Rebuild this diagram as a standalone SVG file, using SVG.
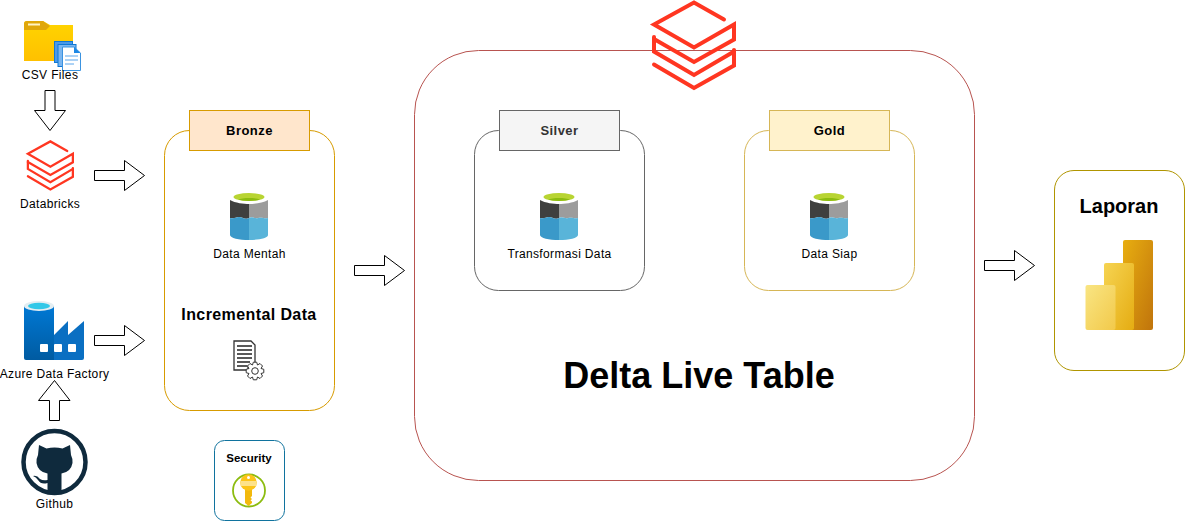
<svg xmlns="http://www.w3.org/2000/svg" width="1185" height="521" viewBox="0 0 1185 521">
<style>
text{font-family:"Liberation Sans",Arial,sans-serif;text-anchor:middle;fill:#000}
.l{font-size:12px;letter-spacing:.35px}
.h{font-size:13px;font-weight:bold;letter-spacing:.45px}
.box{fill:#fff}
.arrow{fill:#fff;stroke:#000;stroke-width:1}
</style>
<defs>
<linearGradient id="folderG" x1="0" y1="0" x2="0" y2="1"><stop offset="0" stop-color="#ffd400"/><stop offset="1" stop-color="#ffc000"/></linearGradient>
<linearGradient id="adfG" x1="0" y1="0" x2="0" y2="1"><stop offset="0" stop-color="#0078d4"/><stop offset="1" stop-color="#005ba1"/></linearGradient>
<linearGradient id="pb1" x1="0" y1="0" x2="1" y2="1"><stop offset="0" stop-color="#f9e583"/><stop offset="1" stop-color="#f2c94a"/></linearGradient>
<linearGradient id="pb2" x1="0" y1="0" x2="1" y2="1"><stop offset="0" stop-color="#f6d452"/><stop offset="1" stop-color="#e5ac12"/></linearGradient>
<linearGradient id="pb3" x1="0" y1="0" x2="1" y2="1"><stop offset="0" stop-color="#e8ae10"/><stop offset="1" stop-color="#c0740c"/></linearGradient>
<g id="stack" fill="none" stroke="#ff3621" stroke-width="4" stroke-linecap="round" stroke-linejoin="miter">
<path d="M724 19.500 694 2.500 654 24.500 694 47.500 734 24.500V39.500L694 62 654 39"/>
<path d="M654 37V51.500L694 75 734 51.500V50"/>
<path d="M734 51V65.500L694 88 654 64.500"/>
</g>
<g id="cyl">
<path d="M0 5C0-1.500 38-1.500 38 5V43C38 49.600 0 49.600 0 43Z" fill="#fff"/>
<path d="M0 8C5 11 14 12 19 12V26C15 28 12 25 9 25 6 25 4 27 0 26Z" fill="#3f3f3f"/>
<path d="M38 8C33 11 24 12 19 12V26C22 24 25 27 28 26 32 25 35 27 38 26Z" fill="#9c9c9c"/>
<path d="M0 26C4 27 6 25 9 25 12 25 15 28 19 26V48C9 48 0 46 0 43Z" fill="#3a99c9"/>
<path d="M38 26C35 27 32 25 28 26 25 27 22 24 19 26V48C29 48 38 46 38 43Z" fill="#59b4d9"/>
<ellipse cx="19" cy="5" rx="15.500" ry="4" fill="#b8d432"/>
<path d="M8 7.600C12 5.500 26 5.500 30 7.600 26 9.400 12 9.400 8 7.600Z" fill="#8cbc10"/>
</g>
</defs>

<g id="connectors">
<path class="arrow" d="M45 90.500H55V110.500H65.500L50 130.500 34.500 110.500H45Z"/>
<path class="arrow" d="M94.500 170.500H124.500V160.500L144.500 175.500 124.500 190.500V180.500H94.500Z"/>
<path class="arrow" d="M94.500 335.500H124.500V325.500L144.500 340.500 124.500 355.500V345.500H94.500Z"/>
<path class="arrow" d="M49.500 420.500V400.500H38.500L54.500 380.500 70 400.500H59.500V420.500Z"/>
<path class="arrow" d="M354.500 265.500H384.500V255.500L404.500 270.500 384.500 285.500V275.500H354.500Z"/>
<path class="arrow" d="M984.500 260.500H1014.500V250.500L1034.500 265.500 1014.500 280.500V270.500H984.500Z"/>
</g>

<g id="delta-live-table">
<rect class="box" x="414.500" y="50.500" width="560" height="430" rx="64" stroke="#b85450"/>
<text x="699" y="388" style="font-size:36px;font-weight:bold">Delta Live Table</text>
<use href="#stack"/>
</g>

<g id="csv-files">
<path d="M24 24Q24 21 27 21H43L50 25H73V61H24Z" fill="url(#folderG)"/>
<path d="M24 30V24Q24 21 27 21H43L50 26 46 30Z" fill="#e0a70a"/>
<rect x="28" y="23.500" width="12" height="2" fill="#fff3c4"/>
<rect x="54.500" y="41.500" width="18" height="21" fill="#4a98e8" stroke="#0f78d4"/>
<rect x="58" y="44.500" width="18" height="22" fill="#7ab6f0" stroke="#0f78d4"/>
<path d="M62.500 47H74L80.500 53V70.500H62.500Z" fill="#fff" stroke="#3b93e0"/>
<path d="M74 47V53H80.500Z" fill="#1e88e5"/>
<path d="M65 56H78M65 60H78M65 64H74" stroke="#5aa6ec" fill="none"/>
<text class="l" x="50" y="79">CSV Files</text>
</g>

<g id="databricks">
<use href="#stack" transform="translate(-340 140) scale(.5625)"/>
<text class="l" x="50" y="208">Databricks</text>
</g>

<g id="azure-data-factory">
<path d="M24 306H54V360H26Q24 360 24 358Z" fill="url(#adfG)"/>
<path d="M54 335 68 321V335L84 321V358Q84 360 82 360H54Z" fill="#0a6fc2"/>
<ellipse cx="39" cy="306" rx="15" ry="5" fill="#e4eef2"/>
<ellipse cx="39" cy="306" rx="11" ry="3.200" fill="#32c8e8"/>
<rect x="40" y="344" width="8" height="8" rx="1" fill="#fff"/>
<rect x="54" y="344" width="8" height="8" rx="1" fill="#fff"/>
<rect x="68" y="344" width="8" height="8" rx="1" fill="#fff"/>
<text class="l" x="54.500" y="378">Azure Data Factory</text>
</g>

<g id="github">
<circle cx="54.500" cy="462" r="31" fill="#fff" stroke="#0f2a3d" stroke-width="4.500"/>
<path d="M39 445 46.500 448.500Q54.500 446.500 62.500 448.500L70 445 71 455Q73 459 72.500 463 71 472 61.500 473.500V491H47.500V483Q41 485 38 480 36 477 33 476 37 475 40 479 43 481 47.500 480V473.500Q38 472 36.500 463 36 459 38 455Z" fill="#0f2a3d"/>
<text class="l" x="54.500" y="508">Github</text>
</g>

<g id="bronze">
<rect class="box" x="164.500" y="130.500" width="170" height="280" rx="25" stroke="#d79b00"/>
<rect x="189.500" y="110.500" width="120" height="40" fill="#ffe6cc" stroke="#d79b00"/>
<text class="h" x="249.500" y="135">Bronze</text>
<use href="#cyl" x="230" y="192"/>
<text class="l" x="249.500" y="258">Data Mentah</text>
<text x="249" y="320" style="font-size:16px;font-weight:bold;letter-spacing:.4px">Incremental Data</text>
<path d="M234 341H251L255 345V366H248V370H234Z" fill="#fff" stroke="#333" stroke-width="1.300"/>
<path d="M237 346H252M237 350H252M237 354H252M237 358H252M237 362H250M237 366H247" stroke="#222" stroke-width="1.500" fill="none"/>
<path transform="translate(255 371)" d="M8.800-1.700V1.700L6 2.500 7.500 5 5 7.500 2.500 6 1.700 8.800H-1.700L-2.500 6-5 7.500-7.500 5-6 2.500-8.800 1.700V-1.700L-6-2.500-7.500-5-5-7.500-2.500-6-1.700-8.800H1.700L2.500-6 5-7.500 7.500-5 6-2.500Z" fill="#fff" stroke="#333"/>
<circle cx="255" cy="371" r="3.300" fill="#fff" stroke="#333"/>
</g>

<g id="security">
<rect class="box" x="214.500" y="440.500" width="70" height="80" rx="10" stroke="#10739e"/>
<text x="249" y="462" style="font-size:11.500px;font-weight:bold">Security</text>
<circle cx="249" cy="490.500" r="16" fill="#fff" stroke="#8cbc10" stroke-width="1.800"/>
<path d="M245 488V503L248.500 506 252 503V501.500L250.500 500.500 252 499 250.500 497.500 252 496V488Z" fill="#f2b90d"/>
<circle cx="248.500" cy="482.500" r="8.300" fill="#fcc419"/>
<path d="M240.500 481H256.500Q257 484 256 486H241Q240 484 240.500 481Z" fill="#fde28a"/>
<circle cx="248.500" cy="477.500" r="1.500" fill="#fff"/>
</g>

<g id="silver">
<rect class="box" x="474.500" y="130.500" width="170" height="160" rx="24" stroke="#666"/>
<rect x="499.500" y="110.500" width="120" height="40" fill="#f5f5f5" stroke="#666"/>
<text class="h" x="559.500" y="135" style="fill:#333">Silver</text>
<use href="#cyl" x="540" y="192"/>
<text class="l" x="559.500" y="258">Transformasi Data</text>
</g>

<g id="gold">
<rect class="box" x="744.500" y="130.500" width="170" height="160" rx="24" stroke="#d6b656"/>
<rect x="769.500" y="110.500" width="120" height="40" fill="#fff2cc" stroke="#d6b656"/>
<text class="h" x="829.500" y="135">Gold</text>
<use href="#cyl" x="810" y="192"/>
<text class="l" x="829.500" y="258">Data Siap</text>
</g>

<g id="laporan">
<rect class="box" x="1054.500" y="170.500" width="130" height="200" rx="19.500" stroke="#b09500"/>
<text x="1119" y="213" style="font-size:20px;font-weight:bold">Laporan</text>
<rect x="1123" y="240" width="30" height="90" rx="2" fill="url(#pb3)"/>
<rect x="1104" y="263" width="30" height="67" rx="2" fill="url(#pb2)"/>
<rect x="1085.500" y="285" width="30" height="45" rx="2" fill="url(#pb1)"/>
</g>
</svg>
